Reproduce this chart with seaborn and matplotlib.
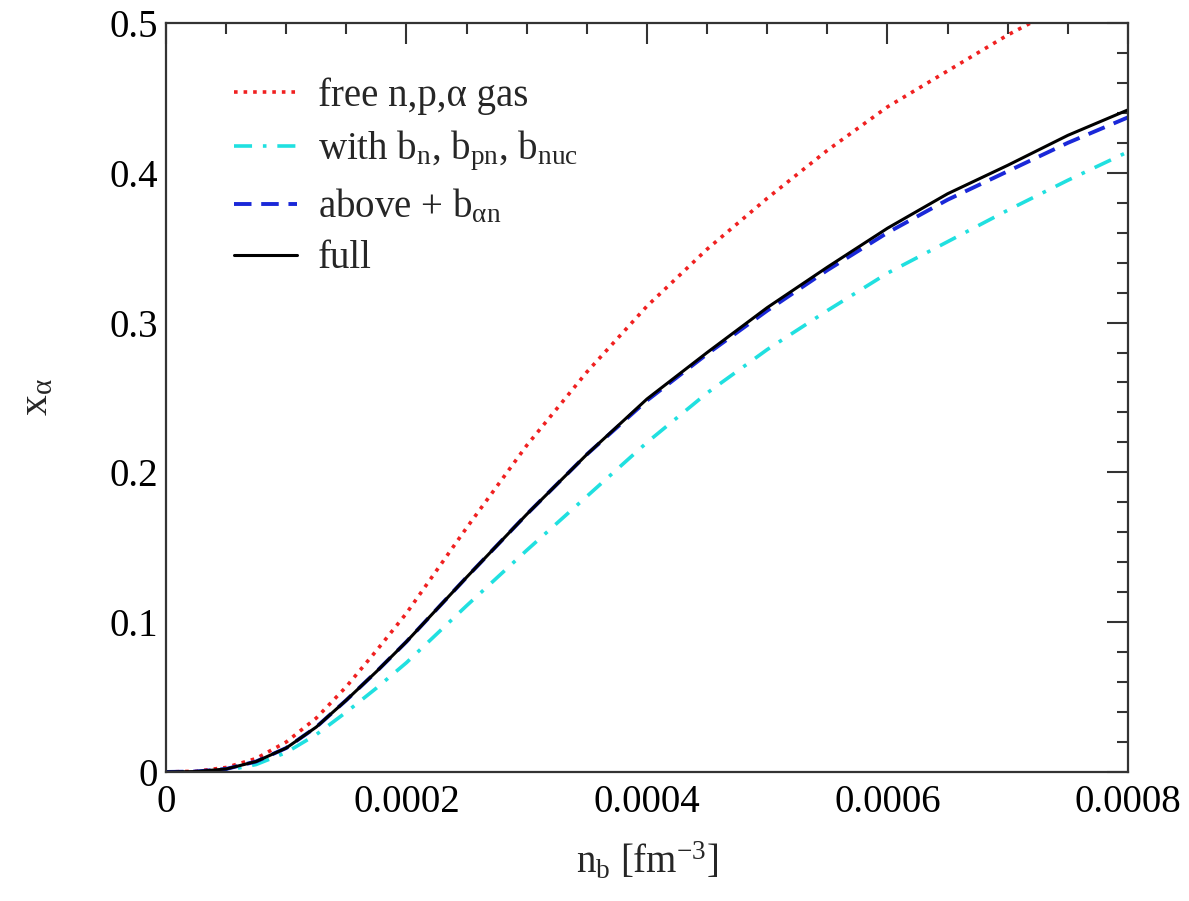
import numpy as np
import pandas as pd
import matplotlib
matplotlib.use("Agg")
import matplotlib.pyplot as plt
import seaborn as sns
from matplotlib.ticker import MultipleLocator

# ------------------------------
# Data
# ------------------------------
nb = [0, 0.000025, 0.00005, 0.000075, 0.0001, 0.000125, 0.00015, 0.000175,
      0.0002, 0.00025, 0.0003, 0.00035, 0.0004, 0.00045, 0.0005, 0.00055,
      0.0006, 0.00065, 0.0007, 0.00075, 0.0008]

x_free = [0, 0.0005, 0.003, 0.009, 0.020, 0.036, 0.057, 0.081,
          0.106, 0.163, 0.218, 0.267, 0.311, 0.349, 0.383, 0.415,
          0.444, 0.468, 0.492, 0.513, 0.532]
x_with_b = [0, 0.0002, 0.001, 0.005, 0.013, 0.025, 0.040, 0.056,
            0.073, 0.111, 0.148, 0.184, 0.220, 0.253, 0.282, 0.308,
            0.333, 0.354, 0.375, 0.395, 0.414]
x_above = [0, 0.0003, 0.002, 0.007, 0.016, 0.030, 0.048, 0.067,
           0.087, 0.130, 0.172, 0.212, 0.248, 0.279, 0.308, 0.335,
           0.360, 0.382, 0.401, 0.420, 0.437]
x_full = [0, 0.0003, 0.002, 0.007, 0.016, 0.030, 0.048, 0.067,
          0.087, 0.130, 0.172, 0.212, 0.249, 0.280, 0.310, 0.337,
          0.363, 0.386, 0.405, 0.425, 0.442]

labels = ["free n,p,\u03b1 gas",
          r"with b$_\mathrm{n}$, b$_\mathrm{pn}$, b$_\mathrm{nuc}$",
          r"above + b$_{\mathrm{\alpha n}}$",
          "full"]

x_ticks = [0, 0.0002, 0.0004, 0.0006, 0.0008]
x_tick_labels = ["0", "0.0002", "0.0004", "0.0006", "0.0008"]
y_ticks = [0, 0.1, 0.2, 0.3, 0.4, 0.5]
y_tick_labels = ["0", "0.1", "0.2", "0.3", "0.4", "0.5"]

# ------------------------------
# Style
# ------------------------------
sns.set_style("white")
plt.rcParams["font.family"] = ["Liberation Serif", "DejaVu Serif"]
plt.rcParams["mathtext.fontset"] = "custom"
plt.rcParams["mathtext.rm"] = "Liberation Serif"
plt.rcParams["mathtext.it"] = "Liberation Serif:italic"
plt.rcParams["mathtext.bf"] = "Liberation Serif:bold"

FS = 28

fig = plt.figure(figsize=(11.89, 9.01), dpi=100)
ax = fig.add_axes([0.1396, 0.1432, 0.8091, 0.8313])

sns.lineplot(x=nb, y=x_free, ax=ax, color="#f02020", linestyle=":", linewidth=2.6, label=labels[0])
sns.lineplot(x=nb, y=x_with_b, ax=ax, color="#20e0e0", linestyle=(0, (5, 3, 1, 3)), linewidth=2.6, label=labels[1])
sns.lineplot(x=nb, y=x_above, ax=ax, color="#1a28d8", linestyle=(0, (4.5, 2.5)), linewidth=2.8, label=labels[2])
sns.lineplot(x=nb, y=x_full, ax=ax, color="black", linestyle="-", linewidth=2.2, label=labels[3])

ax.set_xlim(0, 0.0008)
ax.set_ylim(0, 0.5)
ax.set_xticks(x_ticks)
ax.set_xticklabels(x_tick_labels)
ax.set_yticks(y_ticks)
ax.set_yticklabels(y_tick_labels)
ax.xaxis.set_minor_locator(MultipleLocator(0.00005))
ax.yaxis.set_minor_locator(MultipleLocator(0.02))
ax.tick_params(which="both", direction="in", top=True, right=True, width=1.5, colors="#333333")
ax.tick_params(which="major", length=15, labelsize=FS, labelcolor="black")
ax.tick_params(axis="x", which="major", pad=9)
ax.tick_params(axis="y", which="major", pad=6)
ax.tick_params(which="minor", length=8)
for s in ax.spines.values():
    s.set_linewidth(1.6)
    s.set_color("#333333")

ax.set_xlabel(r"n$_\mathrm{b}$ [fm$^{-3}$]", fontsize=FS, labelpad=14)
ax.set_ylabel(r"x$_{\mathrm{\alpha}}$", fontsize=FS + 2, labelpad=38)

ax.legend(loc="upper left", bbox_to_anchor=(0.055, 0.948), frameon=False, fontsize=FS,
          handlelength=1.6, handletextpad=0.55, labelspacing=0.36, borderaxespad=0)

fig.savefig("out.png", dpi=100)
